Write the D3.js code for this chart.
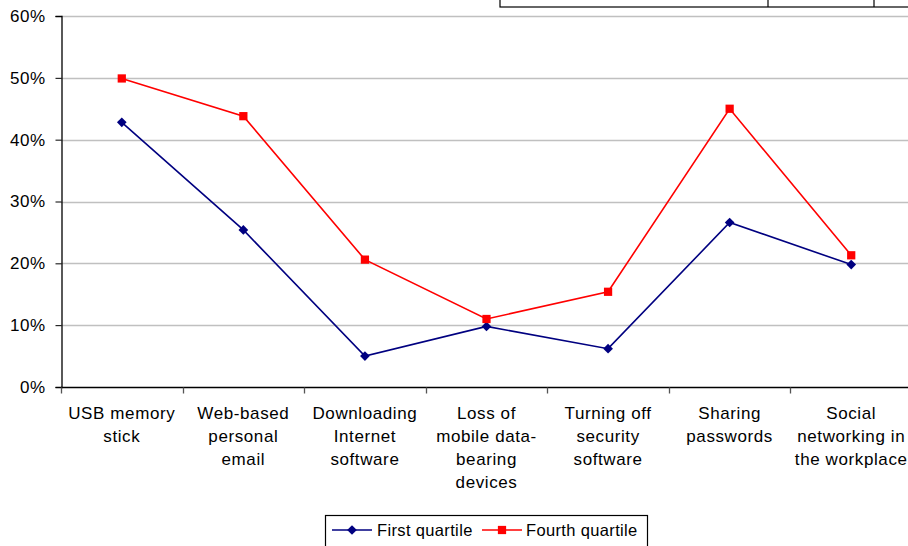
<!DOCTYPE html>
<html><head><meta charset="utf-8">
<script src="https://cdn.jsdelivr.net/npm/d3@7"></script>
<style>
html,body{margin:0;padding:0;background:#fff;}
svg{display:block;font-family:"Liberation Sans",Arial,sans-serif;}
</style></head>
<body>
<svg id="chart" width="908" height="546"></svg>
<script>
const categories = [
  ["USB memory","stick"],
  ["Web-based","personal","email"],
  ["Downloading","Internet","software"],
  ["Loss of","mobile data-","bearing","devices"],
  ["Turning off","security","software"],
  ["Sharing","passwords"],
  ["Social","networking in","the workplace"]
];
const firstQuartile  = [0.428, 0.254, 0.050, 0.098, 0.062, 0.266, 0.198];
const fourthQuartile = [0.499, 0.438, 0.206, 0.110, 0.154, 0.450, 0.213];
const yTicks = [0, 0.1, 0.2, 0.3, 0.4, 0.5, 0.6];
const seriesNames = ["First quartile", "Fourth quartile"];

(function () {
const svg = d3.select("#chart");
const mLeft = 61, mRight = 912, mTop = 16, mBottom = 387;

const x = d3.scaleBand().domain(d3.range(categories.length)).range([mLeft, mRight]);
const y = d3.scaleLinear().domain([0, 0.6]).range([mBottom, mTop]);

// clipped table fragment at top right (its text is cut off in the source)
const tbl = svg.append("g");
tbl.append("rect").attr("x", 500).attr("y", -20).attr("width", 430).attr("height", 27)
  .attr("fill", "#fff").attr("stroke", "#000").attr("stroke-width", 1.2);
tbl.append("line").attr("x1", 768).attr("x2", 768).attr("y1", -20).attr("y2", 7).attr("stroke", "#000").attr("stroke-width", 1.2);
tbl.append("line").attr("x1", 874).attr("x2", 874).attr("y1", -20).attr("y2", 7).attr("stroke", "#000").attr("stroke-width", 1.2);

// gridlines
svg.append("g").selectAll("line").data(yTicks.filter(d => d > 0)).join("line")
  .attr("x1", mLeft).attr("x2", 908)
  .attr("y1", d => Math.round(y(d)) + 0.5).attr("y2", d => Math.round(y(d)) + 0.5)
  .attr("stroke", "#c0c0c0").attr("stroke-width", 1.3);

// y axis
const yAxis = d3.axisLeft(y).tickValues(yTicks).tickFormat(d3.format(".0%")).tickSize(6).tickPadding(10);
const ya = svg.append("g").attr("transform", `translate(${mLeft + 0.5},0)`).call(yAxis);
ya.select(".domain").attr("stroke", "#000").attr("stroke-width", 1.3);
ya.selectAll(".tick line").attr("stroke", "#000");
ya.selectAll("text").attr("font-size", 17).attr("letter-spacing", 0.5).attr("fill", "#000")
  .attr("font-family", "Liberation Sans, Arial, sans-serif");

// x axis
const xa = svg.append("g").attr("transform", `translate(0,${mBottom + 0.5})`);
xa.append("line").attr("x1", mLeft).attr("x2", 908).attr("stroke", "#000").attr("stroke-width", 1.6);
xa.selectAll("line.tk").data(d3.range(categories.length + 1)).join("line").attr("class", "tk")
  .attr("x1", i => Math.round(mLeft + i * x.step()) + 0.5).attr("x2", i => Math.round(mLeft + i * x.step()) + 0.5)
  .attr("y1", 0).attr("y2", 6).attr("stroke", "#555").attr("stroke-width", 1.3);

const lab = svg.append("g").selectAll("text").data(categories).join("text")
  .attr("text-anchor", "middle").attr("font-size", 17).attr("letter-spacing", 0.6).attr("fill", "#000")
  .attr("x", (d, i) => x(i) + x.bandwidth() / 2);
lab.selectAll("tspan").data(d => d).join("tspan")
  .attr("x", function() { return d3.select(this.parentNode).attr("x"); })
  .attr("y", (d, j) => 419 + j * 23).text(d => d);

// lines
const line = d3.line().x((d, i) => x(i) + x.bandwidth() / 2).y(d => y(d));
const colors = ["#000080", "#ff0000"];
[firstQuartile, fourthQuartile].forEach((vals, k) => {
  svg.append("path").datum(vals).attr("d", line).attr("fill", "none")
    .attr("stroke", colors[k]).attr("stroke-width", 1.6);
});
// markers
const diamond = d3.symbol().type(d3.symbolDiamond2).size(60);
const square = d3.symbol().type(d3.symbolSquare).size(68);
svg.append("g").selectAll("path").data(firstQuartile).join("path")
  .attr("d", diamond).attr("fill", colors[0])
  .attr("transform", (d, i) => `translate(${x(i) + x.bandwidth() / 2},${y(d)})`);
svg.append("g").selectAll("path").data(fourthQuartile).join("path")
  .attr("d", square).attr("fill", colors[1])
  .attr("transform", (d, i) => `translate(${x(i) + x.bandwidth() / 2},${y(d)})`);

// legend
const lg = svg.append("g");
lg.append("rect").attr("x", 325.5).attr("y", 515.5).attr("width", 322).attr("height", 40)
  .attr("fill", "#fff").attr("stroke", "#000").attr("stroke-width", 1.2);
const lgItems = [{x0: 332, tx: 377}, {x0: 482, tx: 526}];
lgItems.forEach((it, k) => {
  lg.append("line").attr("x1", it.x0).attr("x2", it.x0 + 40).attr("y1", 530).attr("y2", 530)
    .attr("stroke", colors[k]).attr("stroke-width", 1.6);
  lg.append("path").attr("d", k === 0 ? diamond : square).attr("fill", colors[k])
    .attr("transform", `translate(${it.x0 + 20},530)`);
  lg.append("text").attr("x", it.tx).attr("y", 536).attr("font-size", 16.5).attr("letter-spacing", 0.35)
    .attr("fill", "#000").text(seriesNames[k]);
});
})();
</script>
</body></html>
